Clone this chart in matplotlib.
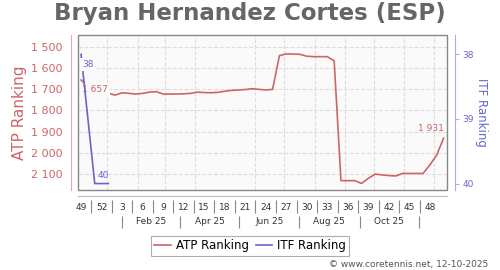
import datetime as dt
import matplotlib
matplotlib.use("Agg")
import matplotlib.pyplot as plt
from matplotlib.ticker import FuncFormatter

# ATP ranking, week index 0 = week 49 of 2024
atp_week = list(range(0, 54))
atp_rank = [1657, 1688, 1705, 1715,
            1720, 1728, 1717, 1720, 1723, 1720, 1714, 1712, 1723, 1723,
            1723, 1722, 1720, 1714, 1716, 1717, 1715, 1710, 1706, 1704,
            1702, 1698, 1701, 1704, 1701, 1542, 1534, 1535, 1536, 1545,
            1547, 1547, 1547, 1566, 2131, 2131, 2131, 2144, 2120, 2100,
            2104, 2107, 2109, 2097, 2097, 2097, 2097, 2057, 2010, 1931]

# ITF ranking
itf_week = [0, 2, 4]
itf_rank = [38, 40, 40]

week_labels = ["49", "52", "3", "6", "9", "12", "15", "18", "21", "24",
               "27", "30", "33", "36", "39", "42", "45", "48"]
month_labels = ["Feb 25", "Apr 25", "Jun 25", "Aug 25", "Oct 25"]

RED = "#cc6666"
BLUE = "#6666cc"
BG = "#fafafa"

origin = dt.date(2024, 12, 5)
def widx(d):
    return (d - origin).days / 7

month_grid = [widx(dt.date(2025, m, 1)) for m in range(1, 13)]
month_sep = [widx(dt.date(2025, m, 16)) for m in (1, 3, 5, 7, 9, 11)]

fig = plt.figure(figsize=(5, 2.7), dpi=100)
ax = fig.add_axes([78 / 500, 80 / 270, 369 / 500, 155 / 270])
ax.set_facecolor(BG)

ax.plot(atp_week, atp_rank, color=RED, lw=1.2, label="ATP Ranking", zorder=3)
ax.set_xlim(-0.45, 53.5)
ax.set_ylim(2175, 1445)

ax2 = ax.twinx()
ax2.plot(itf_week, itf_rank, color=BLUE, lw=1.2, label="ITF Ranking", zorder=3)
ax2.set_ylim(40.10, 37.70)

# frame
ax.spines["top"].set_visible(False)
ax.spines["right"].set_visible(False)
ax.add_patch(plt.Rectangle((0, 0), 1, 1, transform=ax.transAxes, fill=False,
                           ec="#888888", lw=1, clip_on=False, zorder=5))
for s in ["top", "left", "bottom"]:
    ax2.spines[s].set_visible(False)
ax2.spines["right"].set_position(("outward", 6))
ax2.spines["right"].set_color("#aaaaee")

# outward axis lines
ax.spines["left"].set_position(("outward", 5))
ax.spines["left"].set_color("#e4aaaa")
ax.spines["bottom"].set_position(("outward", 4))
ax.spines["bottom"].set_color("#bbbbbb")

ax.set_yticks([1500, 1600, 1700, 1800, 1900, 2000, 2100])
ax.yaxis.set_major_formatter(FuncFormatter(lambda v, p: f"{v:,.0f}".replace(",", " ")))
ax.tick_params(axis="y", colors=RED, labelsize=8, length=0, pad=6)
ax.grid(axis="y", color="#dddddd", ls="--", lw=0.8)

ax.set_xticks(range(0, 52, 3))
ax.set_xticklabels(week_labels)
ax.tick_params(axis="x", which="major", labelsize=6.5, length=0, pad=5, colors="#333333")
ax.set_xticks(month_grid, minor=True)
ax.tick_params(axis="x", which="minor", length=0)
ax.grid(axis="x", which="minor", color="#dddddd", ls="--", lw=0.8)
ax.set_axisbelow(True)

ax2.set_yticks([38, 39, 40])
ax2.tick_params(axis="y", colors=BLUE, labelsize=6.5, length=3, pad=2)
ax2.tick_params(axis="y", color="#aaaaee")

# separators between week labels and month labels
xt = ax.get_xaxis_transform()
ax.vlines([i + 1.5 for i in range(0, 50, 3)], -0.065, -0.148, transform=xt,
          color="#888888", lw=0.8, clip_on=False)
ax.vlines(month_sep, -0.165, -0.245, transform=xt, color="#888888", lw=0.8, clip_on=False)
for i, lab in enumerate(month_labels):
    ax.text((month_sep[i] + month_sep[i + 1]) / 2, -0.205, lab, transform=xt,
            ha="center", va="center", fontsize=6.5, color="#333333")

# data labels
lab_box = dict(facecolor=BG, edgecolor="none", pad=1.5)
ax.annotate("1 657", (atp_week[0], atp_rank[0]), xytext=(1, -7), textcoords="offset points",
            ha="left", va="center", fontsize=6.5, color=RED, bbox=lab_box, zorder=4)
ax.annotate("1 931", (atp_week[-1], atp_rank[-1]), xytext=(0, 7), textcoords="offset points",
            ha="right", va="center", fontsize=6.5, color=RED, zorder=4)
ax2.annotate("38", (itf_week[0], itf_rank[0]), xytext=(1, -7), textcoords="offset points",
             ha="left", va="center", fontsize=6.5, color=BLUE, bbox=lab_box, zorder=4)
ax2.annotate("40", (itf_week[1], itf_rank[1]), xytext=(2, 6), textcoords="offset points",
             ha="left", va="center", fontsize=6.5, color=BLUE, zorder=4)

fig.text(0.5, 0.95, "Bryan Hernandez Cortes (ESP)", ha="center", va="center",
         fontsize=16.5, fontweight="bold", color="#666666")
fig.text(0.04, 0.583, "ATP Ranking", rotation=90, ha="center", va="center",
         fontsize=11, color=RED)
fig.text(0.963, 0.585, "ITF Ranking", rotation=270, ha="center", va="center",
         fontsize=8.5, color=BLUE)

h1, l1 = ax.get_legend_handles_labels()
h2, l2 = ax2.get_legend_handles_labels()
leg = fig.legend(h1 + h2, l1 + l2, loc="center", bbox_to_anchor=(0.5, 0.089), ncol=2,
                 fontsize=8.5, frameon=True, fancybox=False, handlelength=1.4,
                 handletextpad=0.4, columnspacing=0.6, borderpad=0.3)
leg.get_frame().set_edgecolor("#999999")
leg.get_frame().set_linewidth(0.8)

fig.text(0.976, 0.022, "\u00a9 www.coretennis.net, 12-10-2025", ha="right", va="center",
         fontsize=6.5, color="#555555")

fig.savefig("out.png", dpi=100)
